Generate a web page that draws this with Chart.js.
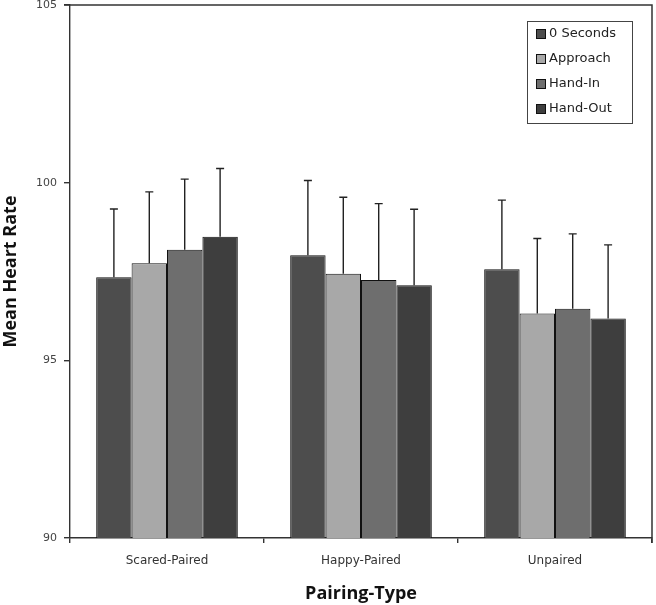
<!DOCTYPE html>
<html>
<head>
<meta charset="utf-8">
<script src="https://cdn.jsdelivr.net/npm/chart.js@4/dist/chart.umd.min.js"></script>
<style>
  html, body { margin: 0; padding: 0; background: #fff; }
  #wrap { width: 656px; height: 605px; }
</style>
</head>
<body>
<div id="wrap"><canvas id="grafico" width="656" height="605"></canvas></div>
<script>
// Mean heart rate by pairing type
const categorias = ['Scared-Paired', 'Happy-Paired', 'Unpaired'];
const series = ['0 Seconds', 'Approach', 'Hand-In', 'Hand-Out'];

const zeroSeconds = [97.34, 97.96, 97.56];
const approach    = [97.73, 97.44, 96.32];
const handIn      = [98.11, 97.26, 96.45];
const handOut     = [98.48, 97.11, 96.18];

// upper error (same order as above)
const erroZero     = [1.92, 2.10, 1.95];
const erroApproach = [2.01, 2.15, 2.11];
const erroHandIn   = [1.99, 2.15, 2.11];
const erroHandOut  = [1.92, 2.14, 2.07];

const yTicks = [90, 95, 100, 105];

const cores = ['#4d4d4d', '#a8a8a8', '#6e6e6e', '#3e3e3e'];
const valores = [zeroSeconds, approach, handIn, handOut];
const erros = [erroZero, erroApproach, erroHandIn, erroHandOut];

const tickFont = { family: 'DejaVu Sans', size: 11 };
const titleFont = { family: 'Open Sans', size: 18, weight: 'bold' };

// error bars (upper only)
const errorBars = {
  id: 'errorBars',
  afterDatasetsDraw(chart) {
    const ctx = chart.ctx;
    const y = chart.scales.y;
    ctx.save();
    ctx.strokeStyle = '#222';
    ctx.lineWidth = 1.4;
    chart.data.datasets.forEach((ds, i) => {
      const meta = chart.getDatasetMeta(i);
      meta.data.forEach((bar, j) => {
        const top = y.getPixelForValue(ds.data[j] + ds.erro[j]);
        const base = y.getPixelForValue(ds.data[j]);
        ctx.beginPath();
        ctx.moveTo(bar.x, base);
        ctx.lineTo(bar.x, top);
        ctx.moveTo(bar.x - 4, top);
        ctx.lineTo(bar.x + 4, top);
        ctx.stroke();
      });
    });
    ctx.restore();
  }
};

// frame + legend box
const moldura = {
  id: 'moldura',
  afterDraw(chart) {
    const ctx = chart.ctx;
    const a = chart.chartArea;
    ctx.save();
    ctx.strokeStyle = '#333';
    ctx.lineWidth = 1.5;
    ctx.beginPath();
    ctx.moveTo(a.left - 6, a.top);
    ctx.lineTo(a.right, a.top);
    ctx.lineTo(a.right, a.bottom + 5);
    ctx.stroke();

    // legend
    const lx = 527, ly = 21, lw = 105, lh = 102;
    ctx.lineWidth = 1;
    ctx.strokeStyle = '#444';
    ctx.fillStyle = '#fff';
    ctx.fillRect(lx, ly, lw, lh);
    ctx.strokeRect(lx + 0.5, ly + 0.5, lw, lh);
    ctx.font = '13px "DejaVu Sans"';
    ctx.textBaseline = 'middle';
    chart.data.datasets.forEach((ds, i) => {
      const cy = 34 + i * 25;
      ctx.fillStyle = ds.backgroundColor;
      ctx.fillRect(536, cy - 4.5, 9, 9);
      ctx.strokeStyle = '#111';
      ctx.strokeRect(536.5, cy - 4.5, 9, 9);
      ctx.fillStyle = '#222';
      ctx.fillText(ds.label, 549, cy);
    });
    ctx.restore();
  }
};

const ctx = document.getElementById('grafico').getContext('2d');
const chart = new Chart(ctx, {
  type: 'bar',
  data: {
    labels: categorias,
    datasets: series.map((nome, i) => ({
      label: nome,
      data: valores[i],
      erro: erros[i],
      backgroundColor: cores[i],
      borderColor: '#111',
      borderWidth: 1,
      borderSkipped: false,
      categoryPercentage: 0.73,
      barPercentage: 1.0
    }))
  },
  options: {
    responsive: false,
    animation: false,
    devicePixelRatio: 1,
    layout: { padding: { top: 5, right: 4, left: 0, bottom: 0 } },
    plugins: {
      legend: { display: false },
      tooltip: { enabled: false }
    },
    scales: {
      x: {
        afterFit(s) { s.height = 67; },
        grid: {
          offset: true,
          drawOnChartArea: false,
          drawTicks: true,
          tickLength: 5,
          color: '#333',
          lineWidth: 1.4
        },
        border: { color: '#333', width: 1.4 },
        ticks: { font: { family: 'DejaVu Sans', size: 12 }, color: '#333', padding: 11 },
        title: {
          display: true,
          text: 'Pairing-Type',
          font: titleFont,
          color: '#111',
          padding: { top: 0, bottom: 0 }
        }
      },
      y: {
        min: 90,
        max: 105,
        afterFit(s) { s.width = 70; s.paddingTop = 0; s.paddingBottom = 0; },
        afterBuildTicks(s) { s.ticks = yTicks.map(v => ({ value: v })); },
        grid: {
          drawOnChartArea: false,
          drawTicks: true,
          tickLength: 6,
          color: '#333',
          lineWidth: 1.4
        },
        border: { color: '#333', width: 1.4 },
        ticks: { font: tickFont, color: '#444', padding: 7 },
        title: {
          display: true,
          text: 'Mean Heart Rate',
          font: titleFont,
          color: '#111',
          padding: { top: 0, bottom: 0 }
        }
      }
    }
  },
  plugins: [errorBars, moldura]
});
</script>
</body>
</html>
